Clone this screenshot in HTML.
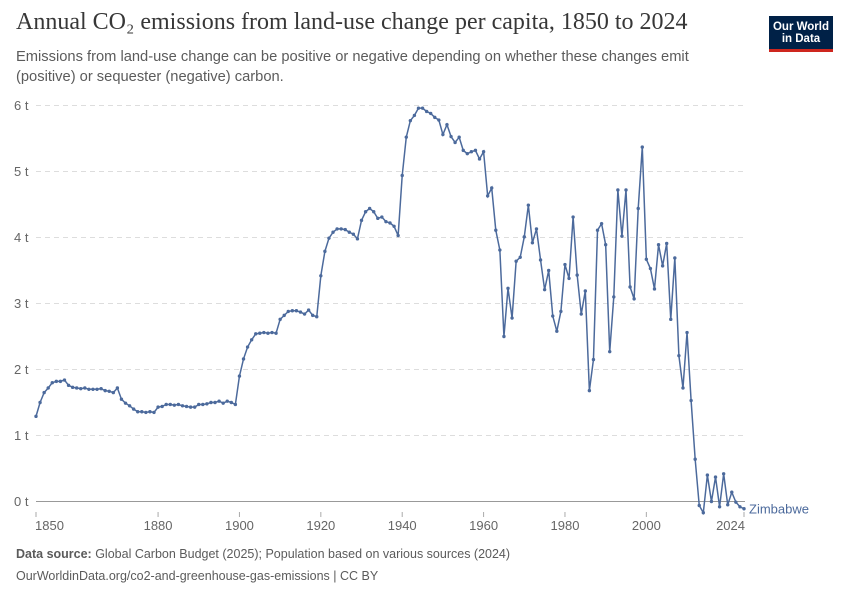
<!DOCTYPE html>
<html><head><meta charset="utf-8"><style>
body{margin:0;background:#fff;width:850px;height:600px;overflow:hidden;font-family:"Liberation Sans",sans-serif}
.t{position:absolute}
</style></head><body>
<div class="t" style="left:16px;top:9px;font-family:'Liberation Serif',serif;font-size:24px;color:#373737;white-space:nowrap">Annual CO₂ emissions from land-use change per capita, 1850 to 2024</div>
<div class="t" style="left:16px;top:47px;font-size:14.7px;color:#5b5b5b;line-height:20px;width:730px">Emissions from land-use change can be positive or negative depending on whether these changes emit (positive) or sequester (negative) carbon.</div>
<div class="t" style="left:769px;top:16px;width:64px;height:36px;background:#002147;border-bottom:3px solid #ce261e;box-sizing:border-box;color:#fff;font-size:11.5px;line-height:12px;text-align:center;padding-top:5px;font-weight:bold">Our World<br>in Data</div>
<svg class="t" style="left:0;top:0" width="850" height="600">
<g id="grid"></g><g id="xaxis"></g><g id="series"></g>
</svg>
<div class="t" style="left:16px;top:547px;font-size:12.5px;color:#5b5b5b"><b>Data source:</b> Global Carbon Budget (2025); Population based on various sources (2024)</div>
<div class="t" style="left:16px;top:569px;font-size:12.5px;color:#5b5b5b">OurWorldinData.org/co2-and-greenhouse-gas-emissions | CC BY</div>
<script>
const startYear=1850;
const values=[
1.29,1.5,1.65,1.72,1.8,1.82,1.82,1.84,1.76,1.73,
1.72,1.71,1.72,1.70,1.70,1.70,1.71,1.68,1.67,1.65,
1.72,1.55,1.49,1.45,1.40,1.36,1.36,1.35,1.36,1.35,
1.43,1.44,1.47,1.47,1.46,1.47,1.45,1.44,1.43,1.43,
1.47,1.47,1.48,1.50,1.50,1.52,1.49,1.52,1.50,1.47,
1.90,2.16,2.34,2.45,2.54,2.55,2.56,2.55,2.56,2.55,
2.76,2.82,2.88,2.89,2.89,2.87,2.84,2.90,2.82,2.80,
3.42,3.79,3.99,4.08,4.13,4.13,4.12,4.08,4.05,3.98,
4.26,4.39,4.44,4.39,4.29,4.31,4.24,4.22,4.17,4.03,
4.94,5.52,5.77,5.85,5.96,5.96,5.91,5.88,5.82,5.78,
5.56,5.71,5.53,5.44,5.52,5.32,5.27,5.30,5.32,5.19,
5.30,4.63,4.75,4.11,3.81,2.50,3.23,2.78,3.64,3.70,
4.01,4.49,3.92,4.13,3.66,3.21,3.50,2.81,2.58,2.88,
3.59,3.38,4.31,3.43,2.84,3.19,1.68,2.15,4.11,4.21,
3.89,2.27,3.10,4.72,4.02,4.72,3.25,3.07,4.44,5.37,
3.67,3.53,3.22,3.89,3.57,3.91,2.76,3.69,2.21,1.72,
2.56,1.53,0.64,-0.06,-0.17,0.40,0.00,0.37,-0.08,0.42,
-0.05,0.14,-0.01,-0.08,-0.11];
const yTicks=[0,1,2,3,4,5,6];
const xTicks=[1850,1880,1900,1920,1940,1960,1980,2000,2024];
const NS='http://www.w3.org/2000/svg';
const X=yr=>36+(yr-1850)*(708/174);
const Y=v=>501.5-v*66;
function mk(tag,attrs,parent,text){const e=document.createElementNS(NS,tag);for(const k in attrs)e.setAttribute(k,attrs[k]);if(text!=null)e.textContent=text;parent.appendChild(e);return e;}
const grid=document.getElementById('grid'),xa=document.getElementById('xaxis'),ser=document.getElementById('series');
yTicks.forEach(v=>{
 if(v!==0){const l=mk('line',{x1:36,x2:745,y1:Y(v),y2:Y(v),stroke:'#ddd','stroke-dasharray':'5,4'},grid);
 
 }
 const t=mk('text',{x:14,y:Y(v)+4.5,'font-size':13,fill:'#666','font-family':'Liberation Sans'},grid,v+' t');
 
 
});
const ax=mk('line',{x1:36,x2:745,y1:Y(0),y2:Y(0),stroke:'#999'},xa);


xTicks.forEach((yr,i)=>{
 const x=X(yr);
 const tk=mk('line',{x1:x,x2:x,y1:512,y2:517,stroke:'#aaa'},xa);
 
 
 let lx=x,anchor='middle';
 if(i===0){lx=x-1;anchor='start';}
 if(i===xTicks.length-1){lx=x+1;anchor='end';}
 const t=mk('text',{x:lx,y:530,'font-size':13,fill:'#666','text-anchor':anchor,'font-family':'Liberation Sans'},xa,String(yr));
 
 
});
const pts=values.map((v,i)=>X(startYear+i).toFixed(2)+','+Y(v).toFixed(2)).join(' ');
const pl=mk('polyline',{points:pts,fill:'none',stroke:'#4c6a9c','stroke-width':1.5},ser);


values.forEach((v,i)=>{
 const c=mk('circle',{cx:X(startYear+i),cy:Y(v),r:1.7,fill:'#4c6a9c'},ser);
 
 
});
const lab=mk('text',{x:749,y:Y(values[values.length-1])+4.5,'font-size':13,fill:'#4c6a9c','font-family':'Liberation Sans'},ser,'Zimbabwe');


</script>
</body></html>
